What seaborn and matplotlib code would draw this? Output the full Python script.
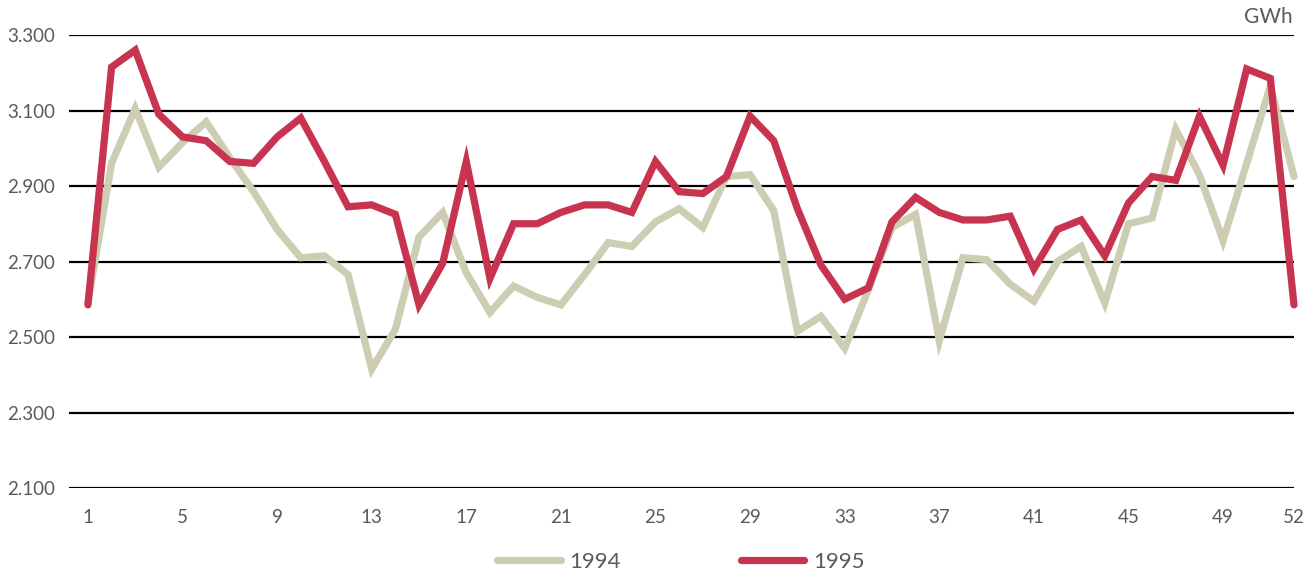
import matplotlib
matplotlib.use('Agg')
import matplotlib.pyplot as plt
import seaborn as sns
import pandas as pd
from matplotlib.ticker import FuncFormatter

# settimane e consumi settimanali (GWh)
weeks = list(range(1, 53))

gwh_1994 = [2590, 2960, 3105, 2950, 3015, 3070, 2975, 2885, 2785, 2710,
            2715, 2665, 2415, 2520, 2765, 2830, 2670, 2565, 2635, 2605,
            2585, 2665, 2750, 2740, 2805, 2840, 2790, 2925, 2930, 2835,
            2515, 2555, 2470, 2625, 2790, 2825, 2490, 2710, 2705, 2640,
            2595, 2700, 2740, 2590, 2800, 2815, 3050, 2930, 2755, 2960,
            3165, 2925]

gwh_1995 = [2585, 3215, 3260, 3090, 3030, 3020, 2965, 2960, 3030, 3080,
            2965, 2845, 2850, 2825, 2585, 2695, 2965, 2655, 2800, 2800,
            2830, 2850, 2850, 2830, 2965, 2885, 2880, 2925, 3085, 3020,
            2840, 2690, 2600, 2630, 2805, 2870, 2830, 2810, 2810, 2820,
            2680, 2785, 2810, 2715, 2855, 2925, 2915, 3085, 2955, 3210,
            3185, 2585]

years = ['1994', '1995']
colors = {'1994': '#CDCDB4', '1995': '#C8344F'}
xticks = [1, 5, 9, 13, 17, 21, 25, 29, 33, 37, 41, 45, 49, 52]
yticks = [2100, 2300, 2500, 2700, 2900, 3100, 3300]

df = pd.DataFrame({
    'week': weeks * 2,
    'gwh': gwh_1994 + gwh_1995,
    'year': ['1994'] * 52 + ['1995'] * 52,
})

sns.set_style('white')
plt.rcParams['font.family'] = ['Lato', 'DejaVu Sans']
txt_col = '#5a5a5a'

fig = plt.figure(figsize=(13.14, 5.78), dpi=100)
ax = fig.add_axes([69 / 1314, 90 / 578, 1225 / 1314, 453 / 578])

sns.lineplot(data=df, x='week', y='gwh', hue='year', hue_order=years,
             palette=colors, linewidth=5.2, ax=ax, legend=False)

ax.set_xlim(0.2, 52)
ax.set_ylim(2100, 3300)
ax.set_yticks(yticks)
ax.set_xticks(xticks)
ax.yaxis.set_major_formatter(FuncFormatter(lambda v, p: f'{int(v):,}'.replace(',', '.')))
ax.grid(axis='y', color='black', linewidth=1.6, zorder=0)
ax.set_axisbelow(True)
ax.tick_params(axis='both', length=0, labelsize=13.5, labelcolor=txt_col)
ax.tick_params(axis='y', pad=10)
ax.tick_params(axis='x', pad=15)
for s in ax.spines.values():
    s.set_visible(False)
ax.set_xlabel('')
ax.set_ylabel('')
for line in ax.get_lines():
    line.set_clip_on(False)
    line.set_solid_joinstyle('miter')

fig.text(1293 / 1314, 1 - 17 / 578, 'GWh', ha='right', va='center',
         fontsize=15, color=txt_col)

handles = [plt.Line2D([], [], color=colors[y], linewidth=5.2) for y in years]
fig.legend(handles, years, loc='center', bbox_to_anchor=(681 / 1314, 1 - 562 / 578),
           ncol=2, frameon=False, handlelength=2.85,
           handletextpad=0.4, columnspacing=5.4, labelcolor=txt_col,
           prop={'size': 16})

fig.savefig('out.png', dpi=100)
